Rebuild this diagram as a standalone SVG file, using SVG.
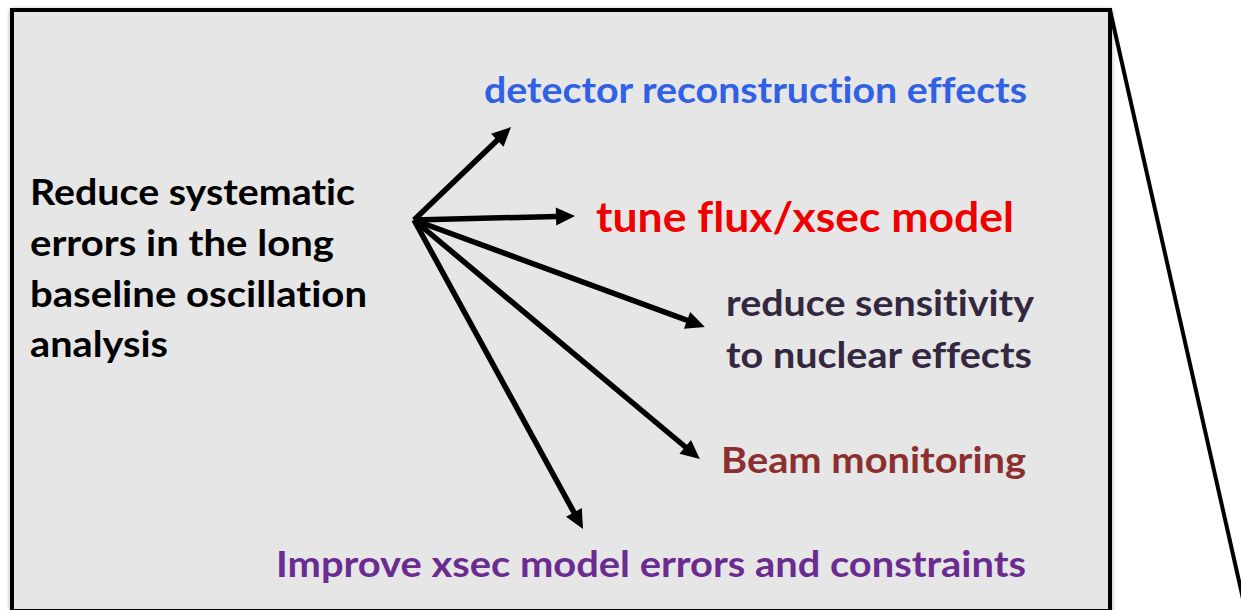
<svg xmlns="http://www.w3.org/2000/svg" width="1241" height="610" viewBox="0 0 1241 610">
  <style>
    .lbl { font-family: Lato, "Open Sans", "Liberation Sans", sans-serif; font-weight: bold; font-variant-ligatures: none; font-feature-settings: "liga" 0, "clig" 0, "dlig" 0, "calt" 0; }
    .main { font-size: 37px; fill: #000000; }
    .blue { font-size: 37px; fill: #3060e4; }
    .red { font-size: 42px; fill: #ee0000; }
    .dark { font-size: 37px; fill: #33283f; }
    .brown { font-size: 37px; fill: #8b302f; }
    .purple { font-size: 37px; fill: #6a2c91; }
    .arrow { stroke: #000000; stroke-width: 5.5; fill: none; marker-end: url(#head); }
  </style>
  <defs>
    <marker id="head" markerUnits="userSpaceOnUse" markerWidth="20" markerHeight="20" refX="1" refY="0" viewBox="0 -10 20 20" orient="auto" overflow="visible">
      <path d="M0,-9 L19,0 L0,9 z" fill="#000000"/>
    </marker>
    <filter id="shade" x="-5%" y="-5%" width="110%" height="110%">
      <feGaussianBlur in="SourceAlpha" stdDeviation="2"/>
      <feOffset dx="0" dy="1" result="b"/>
      <feComponentTransfer><feFuncA type="linear" slope="0.35"/></feComponentTransfer>
      <feMerge><feMergeNode/><feMergeNode in="SourceGraphic"/></feMerge>
    </filter>
  </defs>

  <rect width="1241" height="610" fill="#ffffff"/>

  <!-- panel -->
  <g id="panel" filter="url(#shade)">
    <rect x="12" y="10" width="1098" height="601" fill="#e6e6e6" stroke="#000000" stroke-width="4"/>
  </g>
  <line id="zoom-edge" x1="1110" y1="10" x2="1246" y2="612" stroke="#000000" stroke-width="4"/>

  <!-- connectors -->
  <g id="connectors">
    <line class="arrow" x1="414" y1="220" x2="498" y2="139.5"/>
    <line class="arrow" x1="414" y1="220" x2="557" y2="216.4"/>
    <line class="arrow" x1="414" y1="220" x2="688" y2="320.7"/>
    <line class="arrow" x1="414" y1="220" x2="686" y2="447.5"/>
    <line class="arrow" x1="414" y1="220" x2="574.4" y2="513.2"/>
  </g>

  <!-- nodes -->
  <g id="goal">
    <text class="lbl main" x="30" y="205" textLength="325" lengthAdjust="spacingAndGlyphs">Reduce systematic</text>
    <text class="lbl main" x="30" y="256" textLength="304" lengthAdjust="spacingAndGlyphs">errors in the long</text>
    <text class="lbl main" x="30" y="307" textLength="337" lengthAdjust="spacingAndGlyphs">baseline oscillation</text>
    <text class="lbl main" x="30" y="357" textLength="138" lengthAdjust="spacingAndGlyphs">analysis</text>
  </g>
  <g id="detector">
    <text class="lbl blue" x="484" y="103" textLength="543" lengthAdjust="spacingAndGlyphs">detector reconstruction effects</text>
  </g>
  <g id="tune">
    <text class="lbl red" x="596" y="232" textLength="418" lengthAdjust="spacingAndGlyphs">tune flux/xsec model</text>
  </g>
  <g id="sensitivity">
    <text class="lbl dark" x="726" y="316" textLength="308" lengthAdjust="spacingAndGlyphs">reduce sensitivity</text>
    <text class="lbl dark" x="726" y="368" textLength="306" lengthAdjust="spacingAndGlyphs">to nuclear effects</text>
  </g>
  <g id="beam">
    <text class="lbl brown" x="721" y="473" textLength="305" lengthAdjust="spacingAndGlyphs">Beam monitoring</text>
  </g>
  <g id="xsec">
    <text class="lbl purple" x="276" y="577" textLength="750" lengthAdjust="spacingAndGlyphs">Improve xsec model errors and constraints</text>
  </g>
</svg>
